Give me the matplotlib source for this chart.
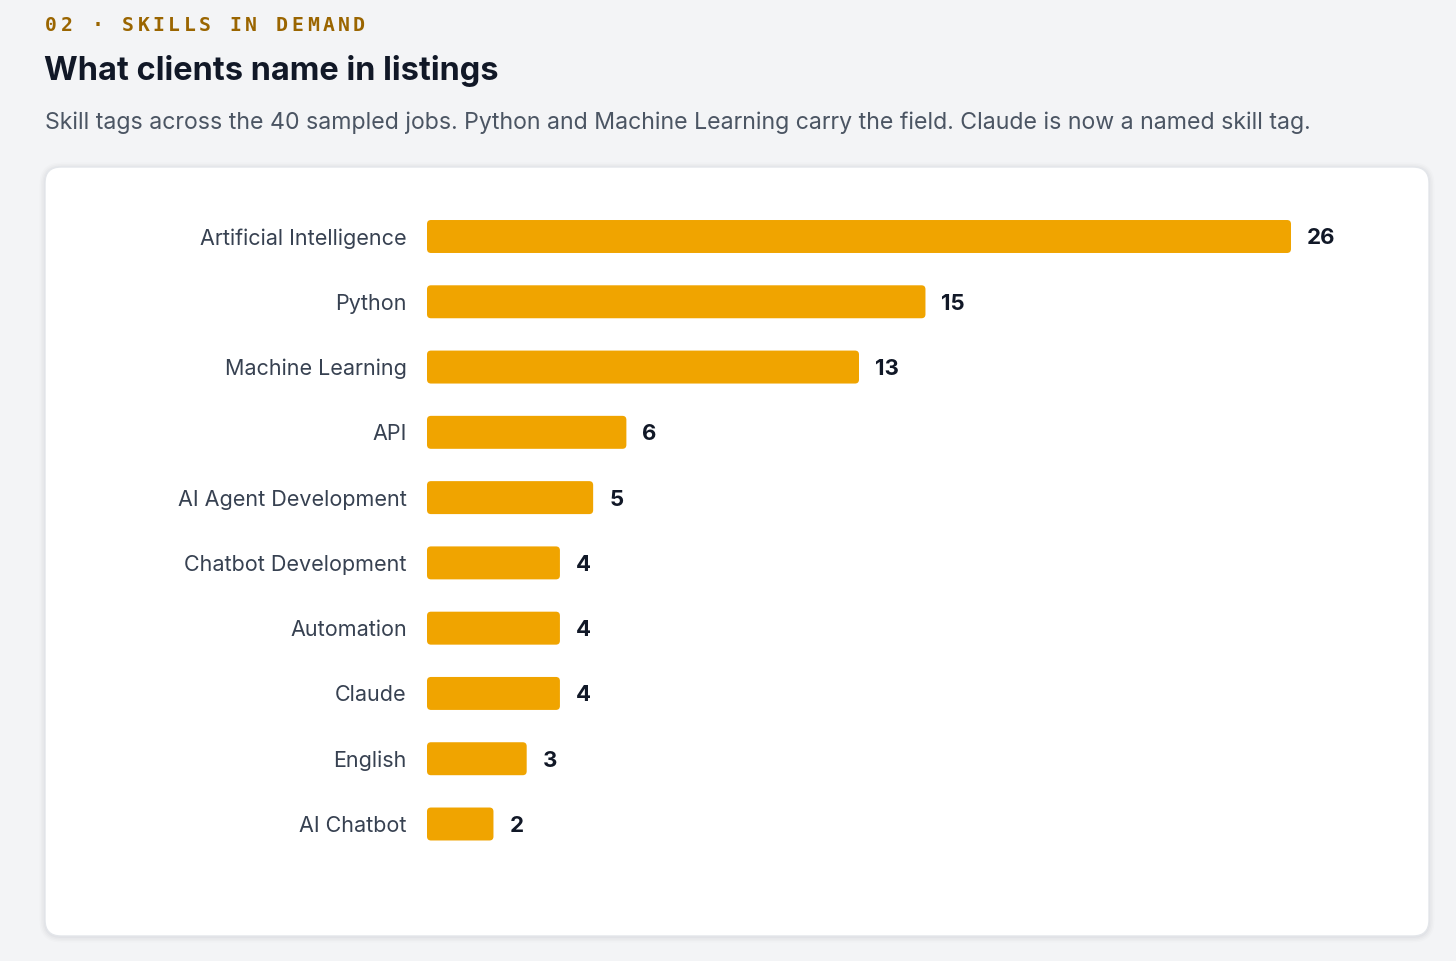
import matplotlib
matplotlib.use("Agg")
import matplotlib.pyplot as plt
from matplotlib.patches import FancyBboxPatch

categories = ["Artificial Intelligence", "Python", "Machine Learning", "API",
              "AI Agent Development", "Chatbot Development", "Automation",
              "Claude", "English", "AI Chatbot"]
counts = [26, 15, 13, 6, 5, 4, 4, 4, 3, 2]

kicker = "02 · SKILLS IN DEMAND"
title = "What clients name in listings"
subtitle = ("Skill tags across the 40 sampled jobs. Python and Machine Learning "
            "carry the field. Claude is now a named skill tag.")

W, H = 1456, 961
DPI = 100
BG = "#f3f4f6"
BAR = "#f0a400"

plt.rcParams['font.family'] = ['Inter', 'DejaVu Sans']

fig = plt.figure(figsize=(W / DPI, H / DPI), dpi=DPI, facecolor=BG)

# background axes in pixel coordinates
bg = fig.add_axes([0, 0, 1, 1])
bg.set_xlim(0, W)
bg.set_ylim(H, 0)
bg.axis("off")

# card shadow
for i, a in enumerate([0.025, 0.02, 0.015, 0.01]):
    d = 1 + i * 1.5
    bg.add_patch(FancyBboxPatch((45 - d, 167 - d + 1), 1384 + 2 * d, 769 + 2 * d,
                                boxstyle="round,pad=0,rounding_size=%g" % (16 + d),
                                facecolor="#0f172a", edgecolor="none", alpha=a))
bg.add_patch(FancyBboxPatch((45, 167), 1384, 769,
                            boxstyle="round,pad=0,rounding_size=16",
                            facecolor="white", edgecolor="#e3e6ea", linewidth=1))

# kicker with letter spacing
for i, ch in enumerate(kicker):
    bg.text(45 + i * 15.4, 31, ch, family="DejaVu Sans Mono", fontweight="bold",
            fontsize=14.2, color="#9a6500", ha="left", va="baseline")

bg.text(44, 80, title, fontsize=23.4, fontweight="bold", color="#111827",
        ha="left", va="baseline")
bg.text(45, 129, subtitle, fontsize=16.65, color="#4b5563",
        ha="left", va="baseline")

# chart axes
x0, x1 = 427, 1291
top = 236.5 - 65.28 / 2
bot = 824 + 65.28 / 2
ax = fig.add_axes([x0 / W, 1 - bot / H, (x1 - x0) / W, (bot - top) / H])
ax.set_facecolor("none")
ax.set_xlim(0, max(counts))
ax.set_ylim(len(categories) - 0.5, -0.5)

bars = ax.barh(range(len(categories)), counts, height=0.505, color=BAR)

px_x = (x1 - x0) / max(counts)
px_y = (bot - top) / len(categories)
r_px = 4
for b in list(bars):
    bx, by, bw, bh = b.get_x(), b.get_y(), b.get_width(), b.get_height()
    b.remove()
    ax.add_patch(FancyBboxPatch((bx, by), bw, bh,
                                boxstyle="round,pad=0,rounding_size=%g" % (r_px / px_x),
                                mutation_aspect=px_x / px_y,
                                facecolor=BAR, edgecolor="none"))

for i, (c, v) in enumerate(zip(categories, counts)):
    ax.text(v + 16 / px_x, i, str(v), fontsize=16, fontweight="bold",
            color="#111827", ha="left", va="center_baseline", clip_on=False)

ax.set_yticks(range(len(categories)))
ax.set_yticklabels(categories, fontsize=15.5, color="#374151")
ax.tick_params(axis="y", length=0, pad=14.5)
ax.set_xticks([])
for s in ax.spines.values():
    s.set_visible(False)

fig.savefig("out.png", dpi=DPI, facecolor=BG)
